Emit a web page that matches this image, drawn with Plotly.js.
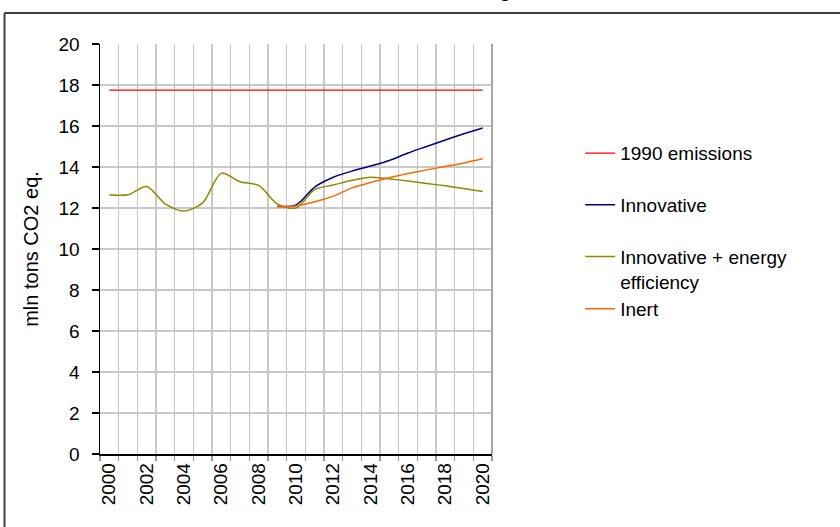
<!DOCTYPE html>
<html>
<head>
<meta charset="utf-8">
<script src="https://cdn.plot.ly/plotly-3.0.1.min.js"></script>
<style>html,body{margin:0;padding:0;background:#fff;}#chart{width:840px;height:527px;}</style>
</head>
<body>
<div id="chart"></div>
<script>
var years = [2000,2001,2002,2003,2004,2005,2006,2007,2008,2009,2010,2011,2012,2013,2014,2015,2016,2017,2018,2019,2020];
var scenarioYears = [2009,2010,2011,2012,2013,2014,2015,2016,2017,2018,2019,2020];
var emissions1990 = [17.75,17.75,17.75,17.75,17.75,17.75,17.75,17.75,17.75,17.75,17.75,17.75,17.75,17.75,17.75,17.75,17.75,17.75,17.75,17.75,17.75];
var innovative = [12.08,12.15,13.02,13.5,13.8,14.05,14.32,14.68,15.0,15.32,15.62,15.9];
var innovativeEE = [12.65,12.65,13.05,12.2,11.85,12.25,13.7,13.28,13.1,12.2,12.0,12.9,13.12,13.35,13.5,13.42,13.32,13.2,13.08,12.95,12.8];
var inert = [12.05,12.1,12.3,12.58,12.98,13.25,13.48,13.68,13.86,14.03,14.2,14.4];
var tickYears = [2000,2002,2004,2006,2008,2010,2012,2014,2016,2018,2020];
var tickLabels = tickYears.map(String);

var font = "Arial, 'Liberation Sans', sans-serif";

var traces = [
  {x: years, y: emissions1990, name: '1990 emissions', mode: 'lines', legendgroup: 'g1',
   line: {color: '#ff0000', width: 1.3}},
  {x: scenarioYears, y: innovative, name: 'Innovative', mode: 'lines', legendgroup: 'g2',
   line: {color: '#000080', width: 1.5, shape: 'spline', smoothing: 0.8}},
  {x: years, y: innovativeEE, name: 'Innovative + energy<br>efficiency', mode: 'lines', legendgroup: 'g3',
   line: {color: '#8a8a00', width: 1.5, shape: 'spline', smoothing: 0.8}},
  {x: scenarioYears, y: inert, name: 'Inert', mode: 'lines', legendgroup: 'g3',
   line: {color: '#ff6600', width: 1.5, shape: 'spline', smoothing: 0.8}}
];

var layout = {
  width: 840, height: 527,
  margin: {l: 100, r: 348, t: 44, b: 73},
  paper_bgcolor: '#ffffff', plot_bgcolor: '#ffffff',
  font: {family: font, size: 19, color: '#000000'},
  showlegend: true,
  legend: {x: 1.225, xanchor: 'left', y: 0.78, yanchor: 'top',
           traceorder: 'grouped', tracegroupgap: 24, valign: 'top',
           font: {family: font, size: 19, color: '#000000'}, bgcolor: 'rgba(0,0,0,0)'},
  xaxis: {
    range: [1999.5, 2020.5], tickmode: 'array', tickvals: tickYears, ticktext: tickLabels,
    tickangle: -90, ticks: '', showgrid: false, zeroline: false,
    showline: true, linecolor: '#000000', linewidth: 1.5,
    tickfont: {family: font, size: 19, color: '#000000'},
    minor: {tickmode: 'linear', tick0: 1999.5, dtick: 1, showgrid: true, gridcolor: '#c8c8c8', gridwidth: 1.5,
            ticks: 'outside', ticklen: 5, tickcolor: '#999999', tickwidth: 1.5},
    fixedrange: true
  },
  yaxis: {
    range: [0, 20], tickmode: 'linear', tick0: 0, dtick: 2,
    ticks: 'outside', ticklen: 7, tickcolor: '#000000', tickwidth: 1.5,
    showline: true, linecolor: '#000000', linewidth: 1.5,
    showgrid: true, gridcolor: '#c8c8c8', gridwidth: 1.5, zeroline: false,
    ticklabelstandoff: 8,
    tickfont: {family: font, size: 19, color: '#000000'},
    title: {text: 'mln tons CO2 eq.', font: {family: font, size: 20, color: '#000000'}, standoff: 14},
    fixedrange: true
  },
  shapes: [
    {type: 'line', xref: 'paper', yref: 'paper', x0: 1, x1: 1, y0: 0, y1: 1,
     line: {color: '#a6a6a6', width: 2}},
    {type: 'line', xref: 'paper', yref: 'paper', x0: -0.2436, x1: -0.2436, y0: -0.2, y1: 1.0756,
     line: {color: '#404040', width: 2}},
    {type: 'line', xref: 'paper', yref: 'paper', x0: -0.2436, x1: 1.9, y0: 1.0756, y1: 1.0756,
     line: {color: '#404040', width: 2}}
  ],
  annotations: [
    {xref: 'paper', yref: 'paper', x: 1.033, y: 1.1317, xanchor: 'center', yanchor: 'middle',
     text: 'g', showarrow: false, font: {family: font, size: 20, color: '#000000', weight: 'bold'}}
  ]
};

Plotly.newPlot('chart', traces, layout, {displayModeBar: false, staticPlot: true});
</script>
</body>
</html>
